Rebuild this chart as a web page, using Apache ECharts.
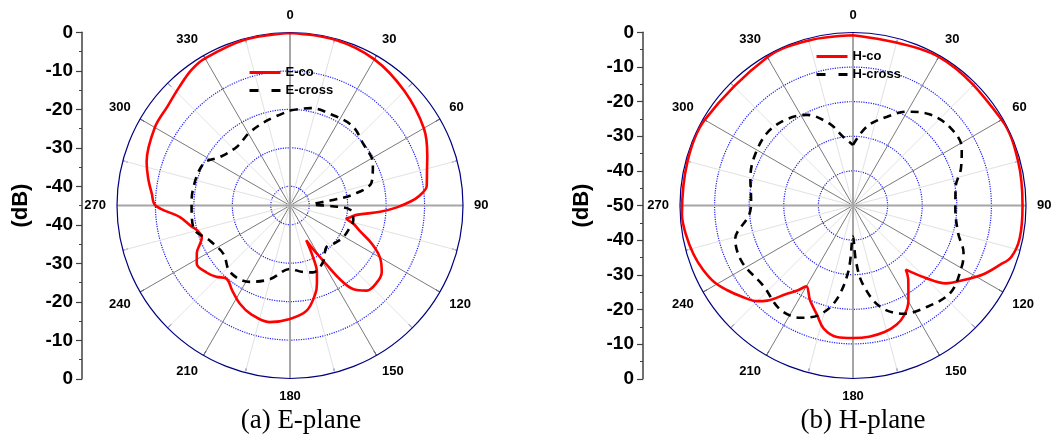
<!DOCTYPE html>
<html><head><meta charset="utf-8">
<script src="https://cdn.jsdelivr.net/npm/echarts@6/dist/echarts.min.js"></script>
<style>html,body{margin:0;padding:0;background:#fff}#c{width:1054px;height:437px}</style>
</head><body><div id="c"></div>
<script>
// ---- tick labels ----
const angleLabels = ['0','30','60','90','120','150','180','210','240','270','300','330'];
const eAxisLabels = ['0','-10','-20','-30','-40','-40','-30','-20','-10','0'];
const hAxisLabels = ['0','-10','-20','-30','-40','-50','-40','-30','-20','-10','0'];
const captions = ['(a) E-plane', '(b) H-plane'];

// ---- E-plane data (angle in degrees, level in dB) ----
const eCoAngle = [0,15,30,45,60,70,75,82,86,88,91,94,98,101,103,106,110,115,120,126,132,138,143,146,149,152,155,156,158,161,164,171,180,190,200,207,214,221,226,231,238,243,247,250,255,258,264,270,275,281,287,300,309,317,324,330,345,360];
const eCoDb    = [-0.1,-0.3,-1.1,-2.9,-4.8,-7.0,-8.1,-9.1,-11.5,-13.5,-17.2,-21.5,-27.5,-29.0,-29.9,-27.8,-25.7,-21.5,-18.0,-15.5,-14.8,-15.2,-17.8,-22.0,-28.3,-32.0,-35.0,-30.3,-26.3,-23.5,-21.1,-17.3,-15.5,-14.2,-15.0,-16.3,-18.2,-19.8,-18.3,-17.2,-16.4,-17.8,-19.6,-20.6,-20.0,-18.8,-16.2,-10.0,-8.9,-7.4,-6.0,-4.4,-4.0,-2.8,-1.4,-0.8,-0.3,-0.1];
const eCrossAngle = [0,12,24,38,50,63,74,80,83,87,91,94,103,112,121,130,139,150,161,170,180,195,208,222,234,246,257,270,279,296,305,318,331,345,360];
const eCrossDb    = [-20.3,-19.1,-19.0,-18.7,-20.1,-20.8,-22.9,-28.2,-34.5,-39.0,-34.0,-29.3,-28.1,-28.5,-28.9,-29.8,-30.6,-27.9,-26.6,-27.5,-28.5,-25.2,-22.5,-21.7,-23.6,-22.3,-19.2,-19.4,-19.4,-20.0,-22.9,-24.4,-23.3,-22.1,-20.3];

// ---- H-plane data ----
const hCoAngle = [0,30,60,75,90,101,108,112,118,124,130,135,140.5,143,146.5,150,155,160,166,173,180,187,193.5,198,204.5,210,213,217,222,225,231,236,241,247,253,260,267,285,300,330,345,360];
const hCoDb    = [-0.8,-0.4,-0.4,-0.6,-1.0,-0.9,-1.9,-4.2,-7.5,-11.5,-15.0,-20.5,-26.0,-23.5,-21.0,-18.0,-15.0,-13.3,-12.3,-11.8,-11.7,-11.7,-13.5,-16.6,-20.0,-23.0,-20.8,-18.0,-13.0,-10.9,-8.3,-6.2,-4.2,-2.8,-1.8,-1.0,-0.5,-0.5,-0.5,-0.5,-0.6,-0.8];
const hCrossAngle = [0,10,21,30,40,51,62,71,80,92,105,113,119,132,146,155,165,173,177,180,184,190,197,205,215,228,243,254,265,273,285,296,310,322,333,344,352,360];
const hCrossDb    = [-32.5,-26.8,-22.5,-18.7,-15.6,-14.0,-14.4,-17.0,-19.9,-20.4,-18.5,-15.3,-14.0,-12.2,-14.0,-15.5,-19.7,-27.2,-34.0,-41.0,-31.0,-22.3,-17.0,-14.2,-13.3,-15.2,-14.0,-14.6,-19.9,-20.5,-19.3,-18.2,-17.5,-18.5,-20.6,-25.4,-30.0,-32.5];

const pair = (ang, db) => ang.map((a, i) => [db[i], a]);

const chart = echarts.init(document.getElementById('c'), null, {renderer: 'canvas'});
const C1 = [290, 205.5], C2 = [853, 205.5], R = 173;
const FONT = 'Arial, "Liberation Sans", sans-serif';

function angleMain(idx) {
  return {
    polarIndex: idx, type: 'value', min: 0, max: 360, interval: 15,
    startAngle: 90, clockwise: true, z: 1,
    axisLine: {show: true, lineStyle: {color: '#000080', width: 1.2}},
    axisTick: {show: true, inside: true, length: 5, lineStyle: {color: '#000080', width: 1}},
    axisLabel: {
      margin: 11, fontFamily: FONT, fontWeight: 'bold', fontSize: 13, color: '#000',
      formatter: v => (v % 30 === 0 && v < 360) ? angleLabels[v / 30] : ''
    },
    splitLine: {show: true, lineStyle: {color: ['#7a7a7a', '#e2e2e2'], width: 1}}
  };
}
function angleOverlay(idx) {
  return {
    polarIndex: idx, type: 'value', min: 0, max: 360, interval: 90,
    startAngle: 90, clockwise: true, z: 1,
    axisLine: {show: false}, axisTick: {show: false}, axisLabel: {show: false},
    splitLine: {show: true, lineStyle: {color: '#a6a6a6', width: 2}}
  };
}
const B = '#1f1fff', T = 'rgba(0,0,0,0)';

function axisY(grid, max, labels) {
  return {
    gridIndex: grid, type: 'value', min: 0, max: max, interval: 10, inverse: true,
    axisLine: {show: true, lineStyle: {color: '#404040', width: 1.5}},
    axisTick: {show: true, length: 6, lineStyle: {color: '#404040', width: 1.2}},
    minorTick: {show: true, splitNumber: 2, length: 3, lineStyle: {color: '#404040', width: 1}},
    splitLine: {show: false}, minorSplitLine: {show: false},
    axisLabel: {formatter: (v, i) => labels[i], fontFamily: FONT, fontWeight: 'bold', fontSize: 19, color: '#000', margin: 9},
    name: '(dB)', nameLocation: 'middle', nameRotate: 90, nameGap: 50,
    nameTextStyle: {fontFamily: FONT, fontWeight: 'bold', fontSize: 22, color: '#000'}
  };
}

function lineSeries(name, idx, data, color, dashed) {
  return {
    name: name, type: 'line', coordinateSystem: 'polar', polarIndex: idx,
    data: data, symbol: 'none', showSymbol: false, smooth: 0.35, clip: false, z: 5,
    lineStyle: {color: color, width: 2.6, type: dashed ? [8, 6] : 'solid'},
    itemStyle: {color: color}
  };
}

const legendText = {fontFamily: FONT, fontWeight: 'bold', fontSize: 13, color: '#000'};
const legendBase = {orient: 'vertical', itemWidth: 31, itemHeight: 10, itemGap: 5, selectedMode: false,
  textStyle: legendText, itemStyle: {opacity: 0, borderWidth: 0}, lineStyle: {opacity: 1}};
const dashItem = name => ({name: name, lineStyle: {type: [9, 13], width: 3}});
const solidItem = name => ({name: name, lineStyle: {type: 'solid', width: 3}});

chart.setOption({
  animation: false,
  backgroundColor: '#fff',
  title: [
    {text: captions[0], left: 296, top: 402, textAlign: 'center',
     textStyle: {fontFamily: '"Liberation Serif", "Times New Roman", serif', fontSize: 27, fontWeight: 'normal', color: '#000'}},
    {text: captions[1], left: 858, top: 402, textAlign: 'center',
     textStyle: {fontFamily: '"Liberation Serif", "Times New Roman", serif', fontSize: 27, fontWeight: 'normal', color: '#000'}}
  ],
  legend: [
    Object.assign({data: [solidItem('E-co'), dashItem('E-cross')], left: 243, top: 61}, legendBase),
    Object.assign({data: [solidItem('H-co'), dashItem('H-cross')], left: 810, top: 45}, legendBase)
  ],
  polar: [
    {center: C1, radius: R}, {center: C1, radius: R},
    {center: C2, radius: R}, {center: C2, radius: R}
  ],
  angleAxis: [angleMain(0), angleOverlay(1), angleMain(2), angleOverlay(3)],
  radiusAxis: [
    {polarIndex: 0, type: 'value', min: -45, max: 0, interval: 5, z: 1,
     axisLine: {show: false}, axisTick: {show: false}, axisLabel: {show: false},
     splitLine: {show: true, lineStyle: {color: [T, B, T, B, T, B, T, B, T, T], type: 'dotted', width: 1.2}}},
    {polarIndex: 1, type: 'value', min: -45, max: 0, axisLine: {show: false}, axisTick: {show: false}, axisLabel: {show: false}, splitLine: {show: false}},
    {polarIndex: 2, type: 'value', min: -50, max: 0, interval: 10, z: 1,
     axisLine: {show: false}, axisTick: {show: false}, axisLabel: {show: false},
     splitLine: {show: true, lineStyle: {color: [T, B, B, B, B, T], type: 'dotted', width: 1.2}}},
    {polarIndex: 3, type: 'value', min: -50, max: 0, axisLine: {show: false}, axisTick: {show: false}, axisLabel: {show: false}, splitLine: {show: false}}
  ],
  grid: [
    {left: 82, top: 32.3, width: 1, height: 346.5},
    {left: 643, top: 32.3, width: 1, height: 346.5}
  ],
  xAxis: [
    {gridIndex: 0, type: 'value', show: false, min: 0, max: 1},
    {gridIndex: 1, type: 'value', show: false, min: 0, max: 1}
  ],
  yAxis: [axisY(0, 90, eAxisLabels), axisY(1, 100, hAxisLabels)],
  series: [
    lineSeries('E-co', 0, pair(eCoAngle, eCoDb), '#ff0000', false),
    lineSeries('E-cross', 0, pair(eCrossAngle, eCrossDb), '#000000', true),
    lineSeries('H-co', 2, pair(hCoAngle, hCoDb), '#ff0000', false),
    lineSeries('H-cross', 2, pair(hCrossAngle, hCrossDb), '#000000', true)
  ]
});
</script>
</body></html>
